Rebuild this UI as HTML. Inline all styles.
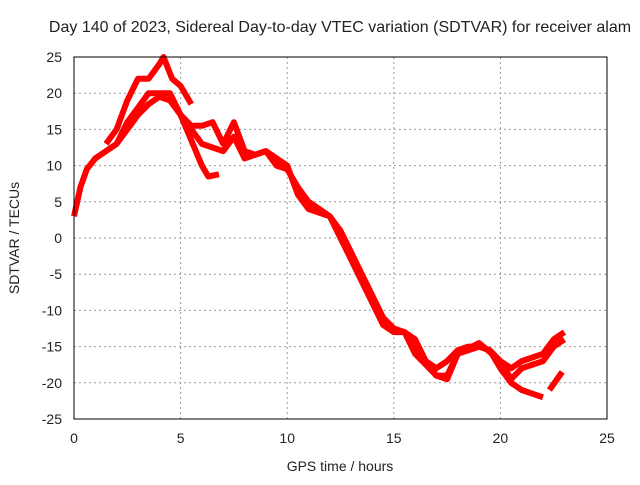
<!DOCTYPE html>
<html><head><meta charset="utf-8"><style>
body{margin:0;background:#fff}
svg text{font-family:"Liberation Sans",sans-serif;font-size:14px;fill:#222}
</style></head><body>
<svg id="chart" width="640" height="480">
<text x="340" y="32" text-anchor="middle" style="font-size:16px">Day 140 of 2023, Sidereal Day-to-day VTEC variation (SDTVAR) for receiver alam</text>
<text x="340" y="471" text-anchor="middle">GPS time / hours</text>
<text x="0" y="0" transform="translate(19,238) rotate(-90)" text-anchor="middle">SDTVAR / TECUs</text>
<g id="grid"></g><g id="series"></g>
<rect x="74" y="57" width="533" height="362" fill="none" stroke="#000" stroke-width="1"/>
<g id="ticks"></g>
</svg>
<script>
const xTicks=[0,5,10,15,20,25];
const yTicks=[25,20,15,10,5,0,-5,-10,-15,-20,-25];
const s1t=[0,0.3,0.6,1,1.5,2,2.5,3,3.5,4,4.5,5,5.5,6,6.3,6.8];
const s1v=[3,7,9.5,11,12,13,15,17,18.5,19.5,19,17,13.5,10,8.5,8.8];
const s2t=[1.5,2,2.5,3,3.5,4,4.2,4.6,5,5.5];
const s2v=[13,15,19,22,22,24,25,22,21,18.5];
const s3t=[2,2.5,3,3.5,4,4.5,5,5.5,6,6.5,7,7.5,8,8.5,9,9.5,10,10.5,11,11.5,12,12.5,13,13.5,14,14.5,15,15.5,16,16.5,17,17.5,18,18.5,19,19.5,20,20.5,21,21.5,22,22.5,23];
const s3v=[13,16,18,20,20,20,17,15.5,15.5,16,13,16,12,11.5,12,10,9.5,7,5,4,3,1,-2,-5,-8,-11,-12.5,-13,-14,-17,-18,-17,-15.5,-15,-15,-15.5,-17,-18,-17,-16.5,-16,-14,-13];
const s4t=[5,5.5,6,6.5,7,7.5,8,9,10,10.5,11,12,12.5,13,13.5,14,14.5,15,15.5,16,16.5,17,17.5,18,19,19.5,20,20.5,21,21.5,22];
const s4v=[17,15,13,12.5,12,14,11,12,10,6,4,3,0,-3,-6,-9,-12,-13,-13,-16,-17.5,-19,-19,-16,-15,-15.5,-18,-20,-21,-21.5,-22];
const s5t=[15.8,16.5,17,17.5,18,19,20,20.5,21,22,22.5,23];
const s5v=[-14.5,-17,-19,-19.5,-16,-14.5,-17,-19.5,-18,-17,-15,-14];
const s6t=[22.3,22.9];
const s6v=[-21,-18.5];
const X0=74,X1=607,Y0=57,Y1=419;
const xs=t=>X0+(t-0)/25*(X1-X0);
const ys=v=>Y0+(25-v)/50*(Y1-Y0);
const NS="http://www.w3.org/2000/svg";
const grid=document.getElementById('grid'),ticks=document.getElementById('ticks'),ser=document.getElementById('series');
function mk(tag,a,p){const e=document.createElementNS(NS,tag);for(const k in a)e.setAttribute(k,a[k]);p.appendChild(e);return e;}
xTicks.forEach(t=>{const x=xs(t);
 if(t>0&&t<25){const g=mk('line',{x1:x,x2:x,y1:Y0,y2:Y1,stroke:'#999','stroke-dasharray':'2,3'},grid);
 
 }
 const l=mk('text',{x:x,y:Y1+24,'text-anchor':'middle'},ticks);l.textContent=t;
 
 });
yTicks.forEach(v=>{const y=ys(v);
 if(v>-25&&v<25){const g=mk('line',{x1:X0,x2:X1,y1:y,y2:y,stroke:'#999','stroke-dasharray':'2,3'},grid);
 
 }
 const l=mk('text',{x:X0-12,y:y+5,'text-anchor':'end'},ticks);l.textContent=v;
 
 });
[[s1t,s1v],[s2t,s2v],[s3t,s3v],[s4t,s4v],[s5t,s5v],[s6t,s6v]].forEach((s,i)=>{
 const pts=s[0].map((t,j)=>xs(t).toFixed(1)+','+ys(s[1][j]).toFixed(1)).join(' ');
 const p=mk('polyline',{points:pts,fill:'none',stroke:'#ff0000','stroke-width':6,'stroke-linejoin':'round'},ser);
 
 });
</script>
</body></html>
